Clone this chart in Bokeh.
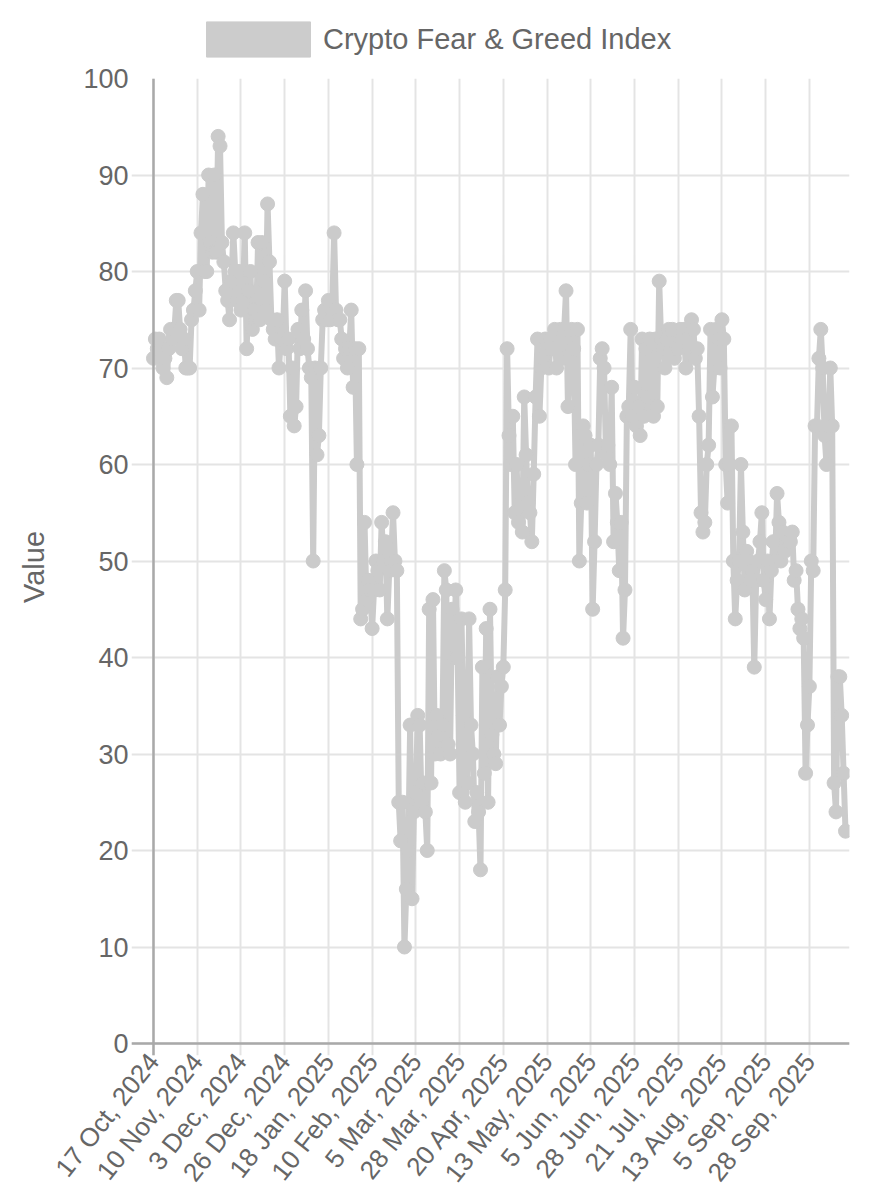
from bokeh.plotting import figure
from bokeh.layouts import column
from bokeh.models import Range1d, FixedTicker, Span, Legend, LegendItem, ColumnDataSource
from bokeh.embed import file_html
from bokeh.resources import INLINE

# ---- data (daily index values) ----
oct_nov_2024 = [71, 73, 72, 73, 72, 70, 71, 69, 72, 74, 73, 74, 77, 77, 74, 72, 73, 70, 70, 70, 75, 76, 78]
nov_dec_2024 = [80, 76, 84, 88, 80, 80, 90, 83, 82, 90, 82, 94, 93, 83, 81, 78, 77, 75, 79, 84, 80, 77, 80]
dec_2024 = [76, 77, 84, 72, 78, 80, 74, 76, 75, 83, 75, 83, 79, 76, 87, 81, 75, 74, 73, 75, 70, 73, 73]
dec_jan_2025 = [79, 72, 73, 65, 70, 64, 66, 74, 72, 76, 73, 78, 72, 70, 69, 50, 70, 61, 63, 70, 75, 76, 75]
jan_feb_2025 = [77, 75, 76, 84, 76, 75, 75, 73, 71, 72, 70, 72, 76, 68, 72, 60, 72, 44, 45, 54, 46, 48, 47]
feb_mar_2025 = [43, 47, 50, 49, 47, 54, 50, 52, 44, 49, 50, 55, 50, 49, 25, 21, 25, 10, 16, 20, 33, 15, 24]
mar_2025 = [26, 34, 33, 25, 27, 24, 20, 45, 27, 46, 30, 34, 32, 30, 33, 49, 47, 31, 30, 45, 40, 47, 40]
mar_apr_2025 = [26, 44, 34, 25, 27, 44, 33, 30, 23, 26, 24, 18, 39, 28, 43, 25, 45, 32, 30, 29, 38, 33, 37]
apr_may_2025 = [39, 47, 72, 63, 60, 65, 55, 60, 54, 57, 53, 67, 61, 56, 55, 52, 59, 67, 73, 65, 70, 71, 73]
may_jun_2025 = [72, 70, 73, 72, 74, 70, 72, 74, 71, 74, 78, 66, 71, 74, 72, 60, 74, 50, 56, 64, 63, 56, 60]
jun_2025 = [62, 45, 52, 60, 62, 71, 72, 70, 61, 62, 60, 68, 52, 57, 54, 49, 54, 42, 47, 65, 66, 74, 65]
jun_jul_2025 = [68, 64, 66, 63, 73, 65, 72, 67, 73, 66, 65, 73, 66, 79, 73, 72, 70, 73, 74, 72, 74, 71, 72]
jul_aug_2025 = [72, 74, 73, 74, 70, 73, 72, 75, 74, 71, 72, 65, 55, 53, 54, 60, 62, 74, 67, 70, 74, 73, 70]
aug_sep_2025 = [75, 73, 60, 56, 60, 64, 50, 44, 48, 50, 60, 53, 47, 51, 50, 48, 49, 39, 48, 50, 52, 55, 48]
sep_2025 = [46, 50, 44, 49, 52, 50, 57, 54, 50, 53, 51, 52, 52, 52, 53, 48, 49, 45, 43, 44, 42, 28, 33]
sep_oct_2025 = [37, 50, 49, 64, 64, 71, 74, 70, 63, 60, 64, 70, 64, 27, 24, 38, 38, 34, 28, 22]

tick_labels = ["17 Oct, 2024", "10 Nov, 2024", "3 Dec, 2024", "26 Dec, 2024",
               "18 Jan, 2025", "10 Feb, 2025", "5 Mar, 2025", "28 Mar, 2025",
               "20 Apr, 2025", "13 May, 2025", "5 Jun, 2025", "28 Jun, 2025",
               "21 Jul, 2025", "13 Aug, 2025", "5 Sep, 2025", "28 Sep, 2025"]
label_every = 23
y_ticks = [0, 10, 20, 30, 40, 50, 60, 70, 80, 90, 100]
series_name = "Crypto Fear & Greed Index"

values = (oct_nov_2024 + nov_dec_2024 + dec_2024 + dec_jan_2025 + jan_feb_2025 +
          feb_mar_2025 + mar_2025 + mar_apr_2025 + apr_may_2025 + may_jun_2025 +
          jun_2025 + jun_jul_2025 + jul_aug_2025 + aug_sep_2025 + sep_2025 + sep_oct_2025)
idx = list(range(len(values)))
src = ColumnDataSource(data=dict(x=idx, y=values))

x_ticks = [i * label_every for i in range(len(tick_labels))]
last = len(values) - 1

FONT = "Liberation Sans"
TXT = "#666666"
LINE = "#cbcbcb"

# ---------- legend strip (its own small figure so nothing is clipped) ----------
leg = figure(width=894, height=63, x_range=Range1d(0, 1), y_range=Range1d(0, 1),
             output_backend="svg", toolbar_location=None, min_border=0)
leg.axis.visible = False
leg.grid.visible = False
leg.outline_line_color = None
r_leg = leg.quad(left=[5], right=[6], top=[6], bottom=[5], fill_color="#cccccc", line_color="#cccccc")
legend = Legend(items=[LegendItem(label=series_name, renderers=[r_leg])],
                location=(62, 2), orientation="horizontal",
                glyph_width=130, glyph_height=44, label_height=44, label_standoff=0,
                padding=0, margin=0, spacing=0, border_line_color=None,
                background_fill_alpha=0, label_text_font_size="29px",
                label_text_color=TXT, label_text_font=FONT)
leg.add_layout(legend, "center")

# ---------- main chart ----------
p = figure(frame_width=718, frame_height=977,
           x_range=Range1d(-11.57, last + 2.1), y_range=Range1d(-1.2435, 100),
           output_backend="svg", toolbar_location=None,
           min_border_left=131, min_border_right=45, min_border_top=15, min_border_bottom=145)
p.outline_line_color = None
p.background_fill_color = "white"
p.border_fill_color = "white"

# grid
p.xgrid.ticker = FixedTicker(ticks=x_ticks)
p.ygrid.ticker = FixedTicker(ticks=y_ticks)
for g in (p.xgrid, p.ygrid):
    g.grid_line_color = "#e4e4e4"
    g.grid_line_width = 2

# axes
p.yaxis.ticker = FixedTicker(ticks=y_ticks)
p.xaxis.ticker = FixedTicker(ticks=x_ticks)
p.xaxis.major_label_overrides = {t: lab for t, lab in zip(x_ticks, tick_labels)}
for ax in (p.xaxis, p.yaxis):
    ax.axis_line_color = None
    ax.major_tick_line_color = None
    ax.minor_tick_line_color = None
    ax.major_tick_out = 0
    ax.major_tick_in = 0
    ax.major_label_text_font = FONT
    ax.major_label_text_color = TXT
p.yaxis.major_label_text_font_size = "27px"
p.yaxis.major_label_standoff = 3
p.xaxis.major_label_text_font_size = "26px"
p.xaxis.major_label_orientation = 0.9
p.xaxis.major_label_standoff = 1

p.yaxis.axis_label = "Value"
p.yaxis.axis_label_text_font = FONT
p.yaxis.axis_label_text_font_size = "29px"
p.yaxis.axis_label_text_font_style = "normal"
p.yaxis.axis_label_text_color = TXT
p.yaxis.axis_label_standoff = 30

# axis border lines
p.add_layout(Span(location=0, dimension="height", line_color="#a9a9a9", line_width=2.5))
p.add_layout(Span(location=0, dimension="width", line_color="#a9a9a9", line_width=2.5))

# series
p.line("x", "y", source=src, line_color=LINE, line_width=6, line_join="round")
p.scatter("x", "y", source=src, size=14, fill_color=LINE, line_color=LINE)

layout = column(leg, p, spacing=0)
open("out.html", "w").write(file_html(layout, INLINE))
